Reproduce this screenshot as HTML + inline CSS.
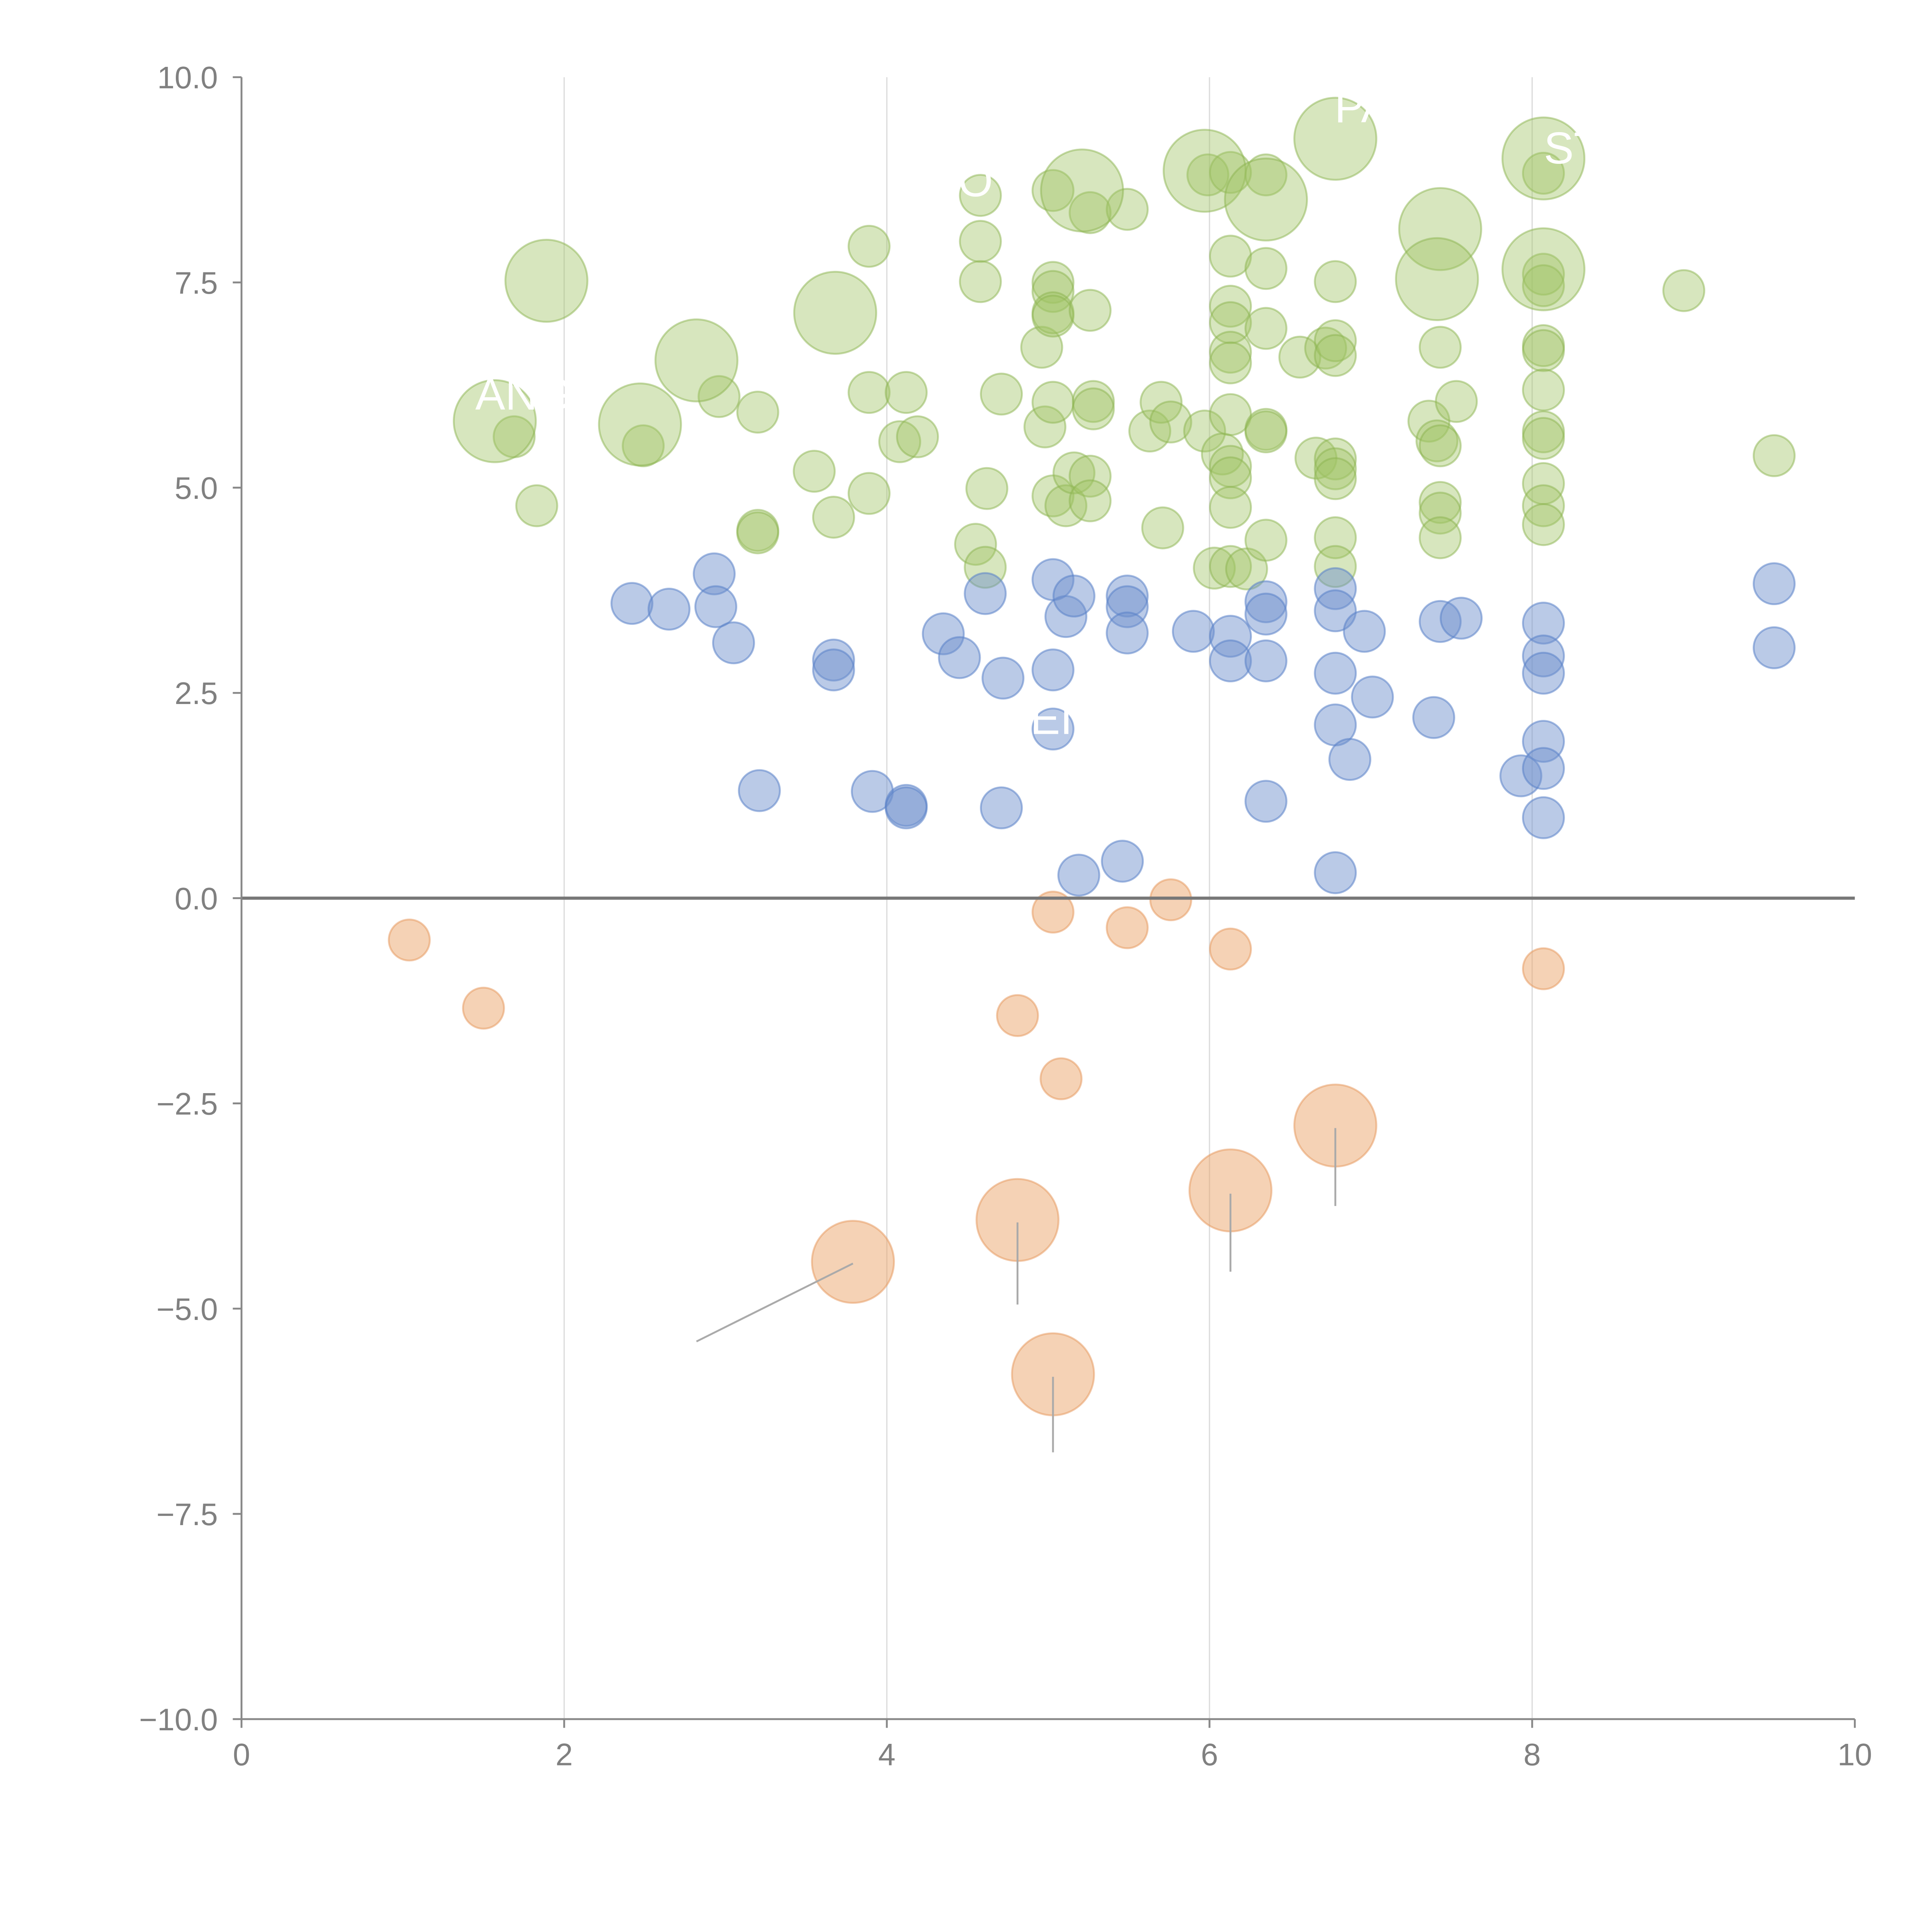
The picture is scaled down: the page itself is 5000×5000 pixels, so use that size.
<!DOCTYPE html>
<html><head><meta charset="utf-8"><style>
html,body{margin:0;padding:0;background:#fff;}
svg{display:block;}
text{font-family:"Liberation Sans",Arial,sans-serif;}
</style></head>
<body>
<svg id="chart" width="5000" height="5000" viewBox="0 0 1552 1552" xmlns="http://www.w3.org/2000/svg">
<g id="grid"></g>
<g id="marks"></g>
<g id="axes"></g>
</svg>
<script>
const xTicks=[0,2,4,6,8,10];
const yTicks=[10,7.5,5,2.5,0,-2.5,-5,-7.5,-10];
const yTickLabels=["10.0","7.5","5.0","2.5","0.0","\u22122.5","\u22125.0","\u22127.5","\u221210.0"];

const orangeX=[1.04,1.50,4.81,5.03,5.49,5.76,6.13,5.08,8.07,3.79,4.81,5.03,6.13,6.78];
const orangeY=[-0.51,-1.34,-1.43,-0.17,-0.36,-0.02,-0.62,-2.2,-0.86,-4.43,-3.92,-5.8,-3.56,-2.77];
const orangeS=[1,1,1,1,1,1,1,1,1,4,4,4,4,4];

const blueX=[2.42,2.65,2.93,2.94,3.05,3.21,3.67,3.67,3.91,4.12,4.12,4.35,4.45,4.61,4.71,4.72,5.03,5.03,5.03,5.11,5.16,5.19,5.46,5.49,5.49,5.49,5.90,6.13,6.13,6.35,6.35,6.35,6.35,6.78,6.78,6.78,6.78,6.78,6.87,6.96,7.01,7.39,7.43,7.56,7.93,8.07,8.07,8.07,8.07,8.07,8.07,9.50,9.50];
const blueY=[3.59,3.52,3.95,3.55,3.11,1.31,2.90,2.78,1.30,1.13,1.10,3.22,2.93,3.71,1.10,2.68,3.88,2.78,2.06,3.43,3.68,0.28,0.45,3.68,3.55,3.23,3.25,3.19,2.89,3.61,3.46,2.89,1.18,3.77,3.50,2.74,2.11,0.31,1.69,3.25,2.45,2.20,3.37,3.41,1.49,3.35,2.95,2.74,1.91,1.58,0.98,3.83,3.05];

const greenX=[1.69,1.83,2.49,2.96,3.2,3.2,3.2,3.55,3.67,3.89,3.89,3.89,4.08,4.12,4.19,4.55,4.58,4.58,4.58,4.61,4.62,4.71,4.96,4.98,5.03,5.03,5.03,5.03,5.03,5.03,5.03,5.11,5.16,5.26,5.26,5.28,5.28,5.26,5.26,5.49,5.63,5.70,5.71,5.76,5.97,5.99,6.03,6.08,6.13,6.13,6.13,6.13,6.13,6.13,6.13,6.13,6.13,6.13,6.13,6.23,6.35,6.35,6.35,6.35,6.35,6.35,6.56,6.66,6.72,6.78,6.78,6.78,6.78,6.78,6.78,6.78,6.78,7.36,7.41,7.43,7.43,7.43,7.43,7.43,7.53,8.07,8.07,8.07,8.07,8.07,8.07,8.07,8.07,8.07,8.07,8.07,8.94,9.50,
1.57,1.89,2.47,2.82,3.68,5.21,5.97,6.35,6.78,7.43,7.41,8.07,8.07];
const greenY=[5.62,4.78,5.51,6.11,5.92,4.48,4.45,5.20,4.64,7.94,6.16,4.93,5.56,6.16,5.62,4.31,8.56,8.0,7.51,4.03,4.99,6.14,6.71,5.74,8.62,7.5,7.39,7.13,7.09,6.04,4.90,4.78,5.18,8.35,7.16,6.05,5.96,5.14,4.84,8.39,5.69,6.04,4.51,5.80,5.69,8.81,4.02,5.41,8.84,7.82,7.21,7.01,6.65,6.52,5.89,5.26,5.12,4.76,4.04,4.01,8.81,7.67,6.94,5.71,5.68,4.36,6.59,5.36,6.70,7.51,6.79,6.61,5.35,5.23,5.11,4.39,4.04,5.81,5.57,5.51,6.71,4.82,4.69,4.39,6.05,8.83,7.60,7.46,6.73,6.67,6.19,5.68,5.60,5.05,4.78,4.55,7.40,5.39,
5.81,7.52,5.77,6.55,7.13,8.62,8.86,8.51,9.25,8.15,7.54,9.01,7.66];
const greenS=[];for(let i=0;i<greenX.length;i++)greenS.push(i<greenX.length-13?1:4);

const labelText=["PA","ST","O","ANG","EI"];
const labelX=[6.95,8.25,4.55,1.75,5.02];
const labelY=[9.45,8.95,8.55,5.95,2.0];

const leaderX1=[3.79,4.81,5.03,6.13,6.78];
const leaderY1=[-4.45,-3.95,-5.83,-3.6,-2.8];
const leaderX2=[2.82,4.81,5.03,6.13,6.78];
const leaderY2=[-5.4,-4.95,-6.75,-4.55,-3.75];

const X0=194,X1=1490,Y0=62,Y1=1381;
const sx=v=>X0+(v-0)/(10-0)*(X1-X0);
const sy=v=>Y0+(10-v)/(20)*(Y1-Y0);
const rs=s=>16*Math.sqrt(s)*1.03;
const NS="http://www.w3.org/2000/svg";
function mk(tag,attrs,parent){const e=document.createElementNS(NS,tag);for(const k in attrs)e.setAttribute(k,attrs[k]);parent.appendChild(e);return e;}
const grid=document.getElementById('grid'),marks=document.getElementById('marks'),axes=document.getElementById('axes');

xTicks.forEach((t,i)=>{
  if(t>0&&t<10){const l=mk('line',{x1:sx(t),x2:sx(t),y1:Y0,y2:Y1,stroke:'#dcdcdc','stroke-width':1},grid);
  
  }
});

function series(xs,ys,ss,fill,stroke,name){
  for(let i=0;i<xs.length;i++){
    const c=mk('circle',{cx:sx(xs[i]),cy:sy(ys[i]),r:rs(ss[i]),fill:fill,stroke:stroke,'stroke-width':1.5},marks);
    
    
  }
}
series(greenX,greenY,greenS,'rgba(160,195,100,0.42)','rgba(140,180,80,0.5)','green-bubble');
series(blueX,blueY,blueX.map(()=>1),'rgba(110,145,205,0.48)','rgba(90,130,200,0.55)','blue-bubble');
series(orangeX,orangeY,orangeS,'rgba(235,160,100,0.48)','rgba(230,150,90,0.5)','orange-bubble');

for(let i=0;i<leaderX1.length;i++){
  const l=mk('line',{x1:sx(leaderX1[i]),y1:sy(leaderY1[i]),x2:sx(leaderX2[i]),y2:sy(leaderY2[i]),stroke:'#aaa','stroke-width':1.5},marks);
  
  
}
for(let i=0;i<labelText.length;i++){
  const t=mk('text',{x:sx(labelX[i]),y:sy(labelY[i]),fill:'#fff','font-size':36,'text-anchor':'middle'},marks);
  t.textContent=labelText[i];
  
  
}

const z=mk('line',{x1:X0,x2:X1,y1:sy(0),y2:sy(0),stroke:'#777','stroke-width':2.5},axes);


const ya=mk('line',{x1:X0,x2:X0,y1:Y0,y2:Y1,stroke:'#888','stroke-width':1.5},axes);


const xa=mk('line',{x1:X0,x2:X1,y1:Y1,y2:Y1,stroke:'#888','stroke-width':1.5},axes);



yTicks.forEach((t,i)=>{
  const tk=mk('line',{x1:X0-7,x2:X0,y1:sy(t),y2:sy(t),stroke:'#888','stroke-width':1.5},axes);
  
  
  const tx=mk('text',{x:X0-19,y:sy(t)+9,fill:'#808080','font-size':25,'text-anchor':'end'},axes);
  tx.textContent=yTickLabels[i];
  
  
});
xTicks.forEach(t=>{
  const tk=mk('line',{x1:sx(t),x2:sx(t),y1:Y1,y2:Y1+7,stroke:'#888','stroke-width':1.5},axes);
  
  
  const tx=mk('text',{x:sx(t),y:Y1+37,fill:'#808080','font-size':25,'text-anchor':'middle'},axes);
  tx.textContent=String(t);
  
  
});
</script>
</body></html>
